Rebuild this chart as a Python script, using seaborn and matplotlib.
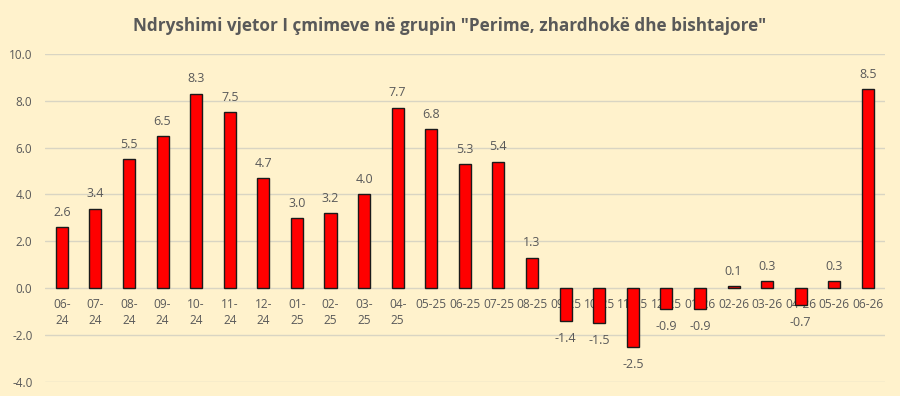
import matplotlib
matplotlib.use("Agg")
import matplotlib.pyplot as plt
import seaborn as sns
import pandas as pd

periods = ["06-24", "07-24", "08-24", "09-24", "10-24", "11-24", "12-24",
           "01-25", "02-25", "03-25", "04-25", "05-25", "06-25", "07-25",
           "08-25", "09-25", "10-25", "11-25", "12-25", "01-26", "02-26",
           "03-26", "04-26", "05-26", "06-26"]
values = [2.6, 3.4, 5.5, 6.5, 8.3, 7.5, 4.7, 3.0, 3.2, 4.0, 7.7, 6.8, 5.3,
          5.4, 1.3, -1.4, -1.5, -2.5, -0.9, -0.9, 0.1, 0.3, -0.7, 0.3, 8.5]
tick_labels = ["06-\n24", "07-\n24", "08-\n24", "09-\n24", "10-\n24", "11-\n24",
               "12-\n24", "01-\n25", "02-\n25", "03-\n25", "04-\n25", "05-25",
               "06-25", "07-25", "08-25", "09-25", "10-25", "11-25", "12-25",
               "01-26", "02-26", "03-26", "04-26", "05-26", "06-26"]
title = 'Ndryshimi vjetor I çmimeve në grupin "Perime, zhardhokë dhe bishtajore"'

sns.set_theme(style="white")
plt.rcParams["font.family"] = ["Open Sans", "DejaVu Sans"]
plt.rcParams["xtick.labelsize"] = 8.6
plt.rcParams["ytick.labelsize"] = 8.5

bg = "#FFF2CC"
txt = "#595959"

fig = plt.figure(figsize=(9, 3.96), dpi=100, facecolor=bg)
ax = fig.add_axes([0.05, 0.0354, 0.933, 0.8286])
ax.set_facecolor(bg)

df = pd.DataFrame({"period": periods, "value": values})
sns.barplot(data=df, x="period", y="value", color="#FF0000", edgecolor="#1a1a1a",
            linewidth=1.0, width=0.36, saturation=1, ax=ax)

ax.set_ylim(-4, 10)
ax.set_xlim(-0.5, len(periods) - 0.5)
ax.set_yticks([-4, -2, 0, 2, 4, 6, 8, 10])
ax.set_yticklabels([f"{v:.1f}" for v in [-4, -2, 0, 2, 4, 6, 8, 10]])
ax.set_xticks(range(len(periods)))
ax.set_xticklabels(tick_labels)
ax.tick_params(axis="both", length=0, labelcolor=txt)
ax.tick_params(axis="x", pad=7, labelsize=8.6)
ax.tick_params(axis="y", pad=9, labelsize=8.5)
ax.set_xlabel("")
ax.set_ylabel("")
for s in ax.spines.values():
    s.set_visible(False)
ax.spines["bottom"].set_position(("data", 0))
ax.yaxis.grid(True, color="#D9D5C3", linewidth=1.0)
ax.set_axisbelow(True)
for lab in ax.get_xticklabels():
    lab.set_fontsize(8.6)
    lab.set_linespacing(1.35)

for i, v in enumerate(values):
    if v >= 0:
        ax.annotate(f"{v:.1f}", (i, v), xytext=(0, 6), textcoords="offset points",
                    ha="center", va="bottom", color=txt, fontsize=9)
    else:
        ax.annotate(f"{v:.1f}", (i, v), xytext=(0, -8), textcoords="offset points",
                    ha="center", va="top", color=txt, fontsize=9)

fig.text(0.5, 0.935, title, ha="center", va="center", color=txt,
         fontsize=12.3, fontweight="bold")

fig.savefig("out.png", dpi=100, facecolor=bg)
